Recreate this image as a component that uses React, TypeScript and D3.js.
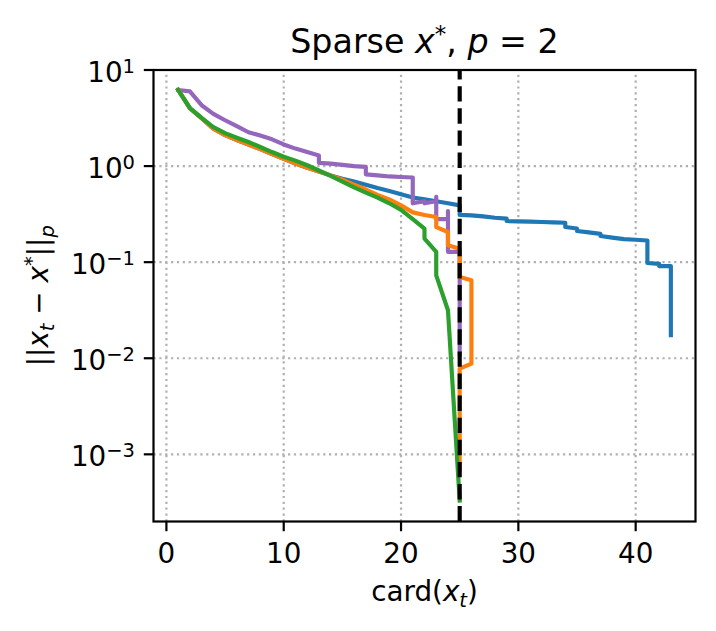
import React from "react";
import * as d3 from "d3";

// ---- data ----
const blueX = [1, 2, 3, 4, 5, 6, 7, 8, 9, 10, 11, 12, 13, 14, 15, 16, 17, 18, 19, 20, 21, 22, 23, 24, 25, 25, 26, 27, 28, 29, 29, 30, 31, 32, 33, 34, 34, 35, 35, 36, 37, 37, 38, 39, 40, 41, 41, 42, 42, 43, 43];
const blueY = [6.2, 4.0, 3.15, 2.45, 2.1, 1.87, 1.67, 1.5, 1.33, 1.19, 1.06, 0.96, 0.88, 0.8, 0.74, 0.69, 0.64, 0.59, 0.55, 0.51, 0.47, 0.45, 0.43, 0.41, 0.39, 0.31, 0.307, 0.3, 0.29, 0.284, 0.268, 0.266, 0.264, 0.262, 0.259, 0.257, 0.232, 0.224, 0.211, 0.204, 0.197, 0.187, 0.18, 0.174, 0.171, 0.168, 0.098, 0.096, 0.091, 0.091, 0.0174];

const orangeX = [1, 2, 3, 4, 5, 6, 7, 8, 9, 10, 11, 12, 13, 14, 15, 16, 17, 18, 19, 20, 21, 22, 23, 23, 24, 24, 25, 25, 26, 26, 25, 25];
const orangeY = [6.2, 4.0, 3.15, 2.45, 2.1, 1.87, 1.67, 1.5, 1.33, 1.19, 1.06, 0.96, 0.88, 0.8, 0.72, 0.64, 0.57, 0.5, 0.45, 0.39, 0.33, 0.31, 0.295, 0.232, 0.206, 0.15, 0.138, 0.07, 0.065, 0.0088, 0.0078, 0.0007];

const greenX = [1, 2, 3, 4, 5, 6, 7, 8, 9, 10, 11, 12, 13, 14, 15, 16, 17, 18, 19, 20, 21, 22, 22, 23, 23, 24, 25];
const greenY = [6.2, 4.0, 3.18, 2.55, 2.2, 1.97, 1.78, 1.58, 1.4, 1.25, 1.14, 1.02, 0.9, 0.79, 0.69, 0.6, 0.53, 0.47, 0.41, 0.35, 0.28, 0.223, 0.176, 0.128, 0.073, 0.0316, 0.00033];

const purpleX = [1, 2, 3, 4, 5, 6, 7, 8, 9, 10, 11, 12, 13, 13, 14, 15, 16, 17, 17, 18, 19, 20, 21, 21, 22, 22, 23, 23, 23, 24, 24, 24, 25, 25];
const purpleY = [6.2, 6.0, 4.3, 3.5, 3.0, 2.6, 2.25, 2.08, 1.9, 1.68, 1.52, 1.4, 1.29, 1.08, 1.06, 1.03, 1.0, 0.98, 0.82, 0.8, 0.78, 0.77, 0.76, 0.41, 0.43, 0.41, 0.43, 0.48, 0.28, 0.28, 0.34, 0.128, 0.128, 0.011];

const xTicks = [0, 10, 20, 30, 40];
const yTickExps = [-3, -2, -1, 0, 1];
const cardStar = 25;

// ---- layout ----
const W = 716;
const H = 631;
const M = { left: 153.5, right: 20.5, top: 70, bottom: 109.5 };
const FONT = "DejaVu Sans";
const LW = 4.17;

type Series = { color: string; xs: number[]; ys: number[] };

export default function App() {
  const series: Series[] = [
    { color: "#1f77b4", xs: blueX, ys: blueY },
    { color: "#9467bd", xs: purpleX, ys: purpleY },
    { color: "#ff7f0e", xs: orangeX, ys: orangeY },
    { color: "#2ca02c", xs: greenX, ys: greenY },
  ];

  const allX = series.flatMap((s) => s.xs);
  const xmin = d3.min(allX)!;
  const xmax = d3.max(allX)!;
  const pad = (xmax - xmin) * 0.05;

  const x = d3
    .scaleLinear()
    .domain([xmin - pad, xmax + pad])
    .range([M.left, W - M.right]);
  const y = d3
    .scaleLog()
    .domain([Math.pow(10, -3.699), 10])
    .range([H - M.bottom, M.top]);

  const line = d3
    .line<[number, number]>()
    .x((d) => x(d[0]))
    .y((d) => y(d[1]));

  const x0 = M.left;
  const x1 = W - M.right;
  const y0 = H - M.bottom;
  const y1 = M.top;

  return (
    <svg
      width={W}
      height={H}
      style={{ position: "absolute", left: 0, top: 0, background: "#fff" }}
      fontFamily={FONT}
    >
      <rect x={0} y={0} width={W} height={H} fill="#fff" />
      <defs>
        <clipPath id="plotclip">
          <rect x={x0} y={y1} width={x1 - x0} height={y0 - y1} />
        </clipPath>
      </defs>

      {/* grid */}
      <g stroke="#b0b0b0" strokeWidth={2.2} strokeDasharray="2.2 3.65">
        {xTicks.map((t) => (
          <line key={"gx" + t} x1={x(t)} x2={x(t)} y1={y0} y2={y1} />
        ))}
        {yTickExps.map((e) => (
          <line key={"gy" + e} x1={x0} x2={x1} y1={y(Math.pow(10, e))} y2={y(Math.pow(10, e))} />
        ))}
      </g>

      {/* series */}
      <g clipPath="url(#plotclip)" fill="none" strokeWidth={LW} strokeLinejoin="round" strokeLinecap="square">
        {series.map((s, i) => (
          <path
            key={i}
            d={line(s.xs.map((v, j) => [v, s.ys[j]] as [number, number])) || ""}
            stroke={s.color}
          />
        ))}
        <line
          x1={x(cardStar)}
          x2={x(cardStar)}
          y1={y0}
          y2={y1}
          stroke="#000"
          strokeWidth={LW}
          strokeDasharray="15.4 6.7"
          strokeLinecap="butt"
        />
      </g>

      {/* spines */}
      <rect x={x0} y={y1} width={x1 - x0} height={y0 - y1} fill="none" stroke="#000" strokeWidth={2.2} />

      {/* x ticks */}
      <g>
        {xTicks.map((t) => (
          <g key={"xt" + t}>
            <line x1={x(t)} x2={x(t)} y1={y0} y2={y0 + 9.7} stroke="#000" strokeWidth={2.2} />
            <text x={x(t)} y={563} textAnchor="middle" fontSize={27.8} fill="#000">
              {t}
            </text>
          </g>
        ))}
      </g>

      {/* y ticks */}
      <g>
        {yTickExps.map((e) => {
          const yy = y(Math.pow(10, e));
          return (
            <g key={"yt" + e}>
              <line x1={x0 - 9.7} x2={x0} y1={yy} y2={yy} stroke="#000" strokeWidth={2.2} />
              <text x={135} y={yy + 11.5} textAnchor="end" fontSize={27.8} fill="#000">
                10
                <tspan fontSize={19.5} dy={-9}>
                  {e < 0 ? "\u2212" + Math.abs(e) : String(e)}
                </tspan>
              </text>
            </g>
          );
        })}
      </g>

      {/* title */}
      <text x={(x0 + x1) / 2} y={53} textAnchor="middle" fontSize={33.3} fill="#000" style={{ whiteSpace: "pre" }}>
        {"Sparse "}
        <tspan fontStyle="italic">x</tspan>
        <tspan fontSize={23} dy={-11}>*</tspan>
        <tspan dy={11}>{", "}</tspan>
        <tspan fontStyle="italic">p</tspan>
        <tspan>{" = 2"}</tspan>
      </text>

      {/* x label */}
      <text x={(x0 + x1) / 2} y={601} textAnchor="middle" fontSize={27.8} fill="#000">
        {"card("}
        <tspan fontStyle="italic">x</tspan>
        <tspan fontStyle="italic" fontSize={19.5} dy={6}>t</tspan>
        <tspan dy={-6}>)</tspan>
      </text>

      {/* y label */}
      <text
        transform={`translate(48,${(y0 + y1) / 2}) rotate(-90)`}
        textAnchor="middle"
        fontSize={27.8}
        fill="#000"
        style={{ whiteSpace: "pre" }}
      >
        {"||"}
        <tspan fontStyle="italic">x</tspan>
        <tspan fontStyle="italic" fontSize={19.5} dy={6}>t</tspan>
        <tspan dy={-6}>{" \u2212 "}</tspan>
        <tspan fontStyle="italic">x</tspan>
        <tspan fontSize={19.5} dy={-10}>*</tspan>
        <tspan dy={10}>{"||"}</tspan>
        <tspan fontStyle="italic" fontSize={19.5} dy={6}>p</tspan>
      </text>
    </svg>
  );
}
